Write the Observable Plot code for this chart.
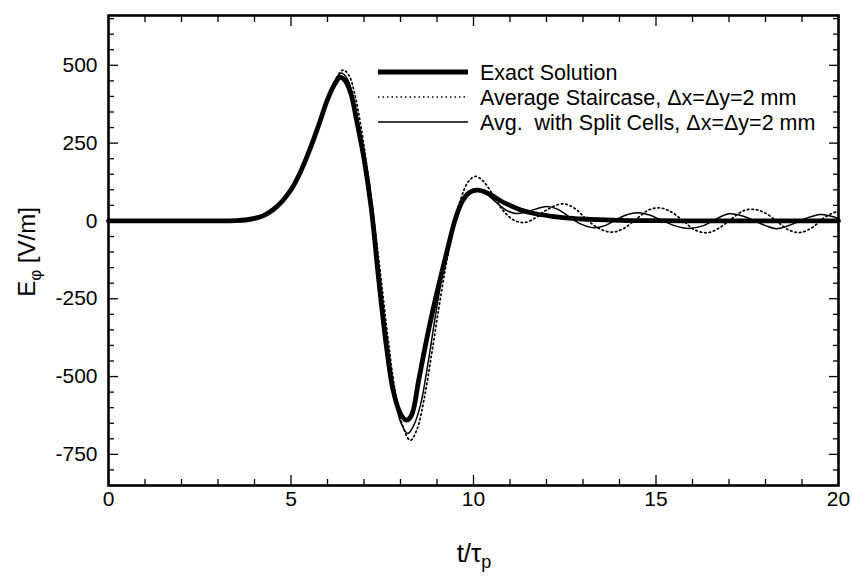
<!DOCTYPE html>
<html><head><meta charset="utf-8">
<script src="https://cdn.jsdelivr.net/npm/d3@7"></script>
<script src="https://cdn.jsdelivr.net/npm/@observablehq/plot@0.6"></script>
<style>
body{margin:0;background:#fff}
svg{font-family:"Liberation Sans",Arial,Helvetica,sans-serif}
</style>
</head><body><div id="chart"></div>
<script>
// Exact solution (thick)
const exactT = [0,1,2,3,3.5,3.75,4.0,4.25,4.5,4.75,5.0,5.25,5.5,5.75,6.0,6.2,6.35,6.5,6.65,6.8,7.0,7.2,7.4,7.6,7.8,8.0,8.16,8.3,8.5,8.7,8.9,9.1,9.3,9.5,9.7,9.9,10.1,10.3,10.5,10.75,11.0,11.3,11.7,12.2,12.7,13.2,14,15,16,17,18,19,20];
const exactV = [0,0,0,0,1,3,8,17,35,62,100,155,225,305,390,440,461,448,405,322,200,40,-185,-390,-545,-620,-640,-625,-511,-390,-280,-180,-85,5,65,92,99,94,82,64,50,35,23,14,8,5,2,1,0,0,0,0,0];

// Average staircase (dotted)
const stairT = [0,1,2,3,3.5,3.75,4.0,4.25,4.5,4.75,5.0,5.25,5.5,5.75,6.0,6.2,6.43,6.6,6.75,6.9,7.05,7.25,7.45,7.65,7.85,8.05,8.27,8.45,8.65,8.85,9.05,9.25,9.45,9.65,9.85,10.05,10.25,10.5,10.8,11.1,11.4,11.7,12.0,12.45,12.8,13.1,13.45,13.8,14.1,14.45,14.8,15.1,15.4,15.75,16.05,16.4,16.7,17.05,17.4,17.7,18.0,18.35,18.65,18.96,19.3,19.6,19.95,20];
const stairV = [0,0,0,0,1,3,7,16,33,60,98,152,222,305,390,450,485,465,405,315,200,25,-170,-370,-545,-655,-705,-670,-570,-430,-280,-140,-20,70,125,143,130,90,35,3,-5,10,35,55,38,5,-25,-36,-25,5,35,42,30,0,-28,-38,-25,5,33,37,25,-5,-30,-37,-20,10,30,31];

// Average with split cells (thin solid)
const splitT = [0,1,2,3,3.5,3.75,4.0,4.25,4.5,4.75,5.0,5.25,5.5,5.75,6.0,6.2,6.38,6.55,6.7,6.85,7.0,7.2,7.4,7.6,7.8,8.0,8.2,8.35,8.55,8.75,8.95,9.15,9.35,9.55,9.75,9.95,10.1,10.3,10.6,10.9,11.15,11.4,11.7,12.0,12.3,12.6,12.9,13.3,13.6,13.9,14.2,14.5,14.8,15.2,15.5,15.9,16.3,16.6,17.0,17.4,17.7,18.0,18.3,18.7,19.1,19.5,19.8,20];
const splitV = [0,0,0,0,1,3,8,17,35,62,100,155,225,310,395,450,475,455,400,310,200,30,-170,-370,-540,-645,-683,-660,-590,-460,-310,-170,-60,20,75,100,102,92,62,34,24,27,38,46,38,15,-8,-22,-15,3,20,26,20,0,-15,-24,-15,3,23,15,0,-15,-25,-12,8,21,15,8];

const xMajor = [0,5,10,15,20];
const xMinor = [1,2,3,4,6,7,8,9,11,12,13,14,16,17,18,19];
const yMajor = [-750,-500,-250,0,250,500];
const yMinor = [-800,-700,-650,-600,-550,-450,-400,-350,-300,-200,-150,-100,-50,50,100,150,200,300,350,400,450,550,600,650];

const legendLabels = ["Exact Solution","Average Staircase, \u0394x=\u0394y=2 mm","Avg.\u00a0 with Split Cells, \u0394x=\u0394y=2 mm"];

const toRows = (T, V) => T.map((t, i) => ({t, v: V[i]}));
const exactRows = toRows(exactT, exactV);
const stairRows = toRows(stairT, stairV);
const splitRows = toRows(splitT, splitV);

const fmt = d => String(d);
const tk = {stroke: "black", strokeWidth: 1.3, tickFormat: () => "", label: null};
const MAJ = 10, MIN = 6;

const chart = Plot.plot({
  width: 852, height: 576,
  marginLeft: 108, marginRight: 14, marginTop: 15, marginBottom: 91,
  x: {domain: [0, 20]},
  y: {domain: [-850, 660]},
  style: {fontFamily: '"Liberation Sans",Arial,Helvetica,sans-serif', fontSize: "21px", color: "black", background: "white"},
  marks: [
    Plot.line(stairRows, {x: "t", y: "v", stroke: "black", strokeWidth: 1.7, strokeDasharray: "1.5 3", curve: "catmull-rom"}),
    Plot.line(splitRows, {x: "t", y: "v", stroke: "black", strokeWidth: 1.5, curve: "catmull-rom"}),
    Plot.line(exactRows, {x: "t", y: "v", stroke: "black", strokeWidth: 4.8, curve: "catmull-rom"}),
    // inward ticks on all four sides (outward ticks shifted inside by their length)
    Plot.axisX(xMajor, {anchor: "bottom", tickSize: MAJ, dy: -MAJ, ...tk}),
    Plot.axisX(xMinor, {anchor: "bottom", tickSize: MIN, dy: -MIN, ...tk}),
    Plot.axisX(xMajor, {anchor: "top", tickSize: MAJ, dy: MAJ, ...tk}),
    Plot.axisX(xMinor, {anchor: "top", tickSize: MIN, dy: MIN, ...tk}),
    Plot.axisY(yMajor, {anchor: "left", tickSize: MAJ, dx: MAJ, ...tk}),
    Plot.axisY(yMinor, {anchor: "left", tickSize: MIN, dx: MIN, ...tk}),
    Plot.axisY(yMajor, {anchor: "right", tickSize: MAJ, dx: -MAJ, ...tk}),
    Plot.axisY(yMinor, {anchor: "right", tickSize: MIN, dx: -MIN, ...tk}),
    // tick labels
    Plot.axisX(xMajor, {anchor: "bottom", tickSize: 0, tickPadding: 6, tickFormat: fmt, fontSize: 21, label: null}),
    Plot.axisY(yMajor, {anchor: "left", tickSize: 0, tickPadding: 11, tickFormat: fmt, fontSize: 21, label: null}),
    Plot.frame({stroke: "black", strokeWidth: 2.6})
  ]
});

document.getElementById("chart").append(chart);

// Axis titles and legend (SVG text with subscripts)
const svg = d3.select(chart);
const xt = svg.append("text").attr("x", 474).attr("y", 562).attr("text-anchor", "middle")
  .attr("font-size", 26).attr("fill", "black");
xt.append("tspan").text("t/\u03c4");
xt.append("tspan").attr("font-size", 18).attr("dy", 6).text("p");

const yt = svg.append("text").attr("transform", "translate(35,252) rotate(-90)")
  .attr("text-anchor", "middle").attr("font-size", 24).attr("fill", "black");
yt.append("tspan").text("E");
yt.append("tspan").attr("font-size", 17).attr("dy", 6).text("\u03c6");
yt.append("tspan").attr("dy", -6).text(" [V/m]");

const lg = svg.append("g");
const legendStyles = [
  {w: 4.8, dash: null},
  {w: 1.7, dash: "1.5 3"},
  {w: 1.5, dash: null}
];
legendLabels.forEach((label, i) => {
  const y = 72 + i * 25;
  lg.append("line").attr("x1", 378).attr("x2", 468).attr("y1", y).attr("y2", y)
    .attr("stroke", "black").attr("stroke-width", legendStyles[i].w)
    .attr("stroke-dasharray", legendStyles[i].dash);
  lg.append("text").attr("x", 480).attr("y", y).attr("dy", "0.35em")
    .attr("text-anchor", "start")
    .attr("font-size", 21.5).attr("fill", "black").text(label);
});
</script>
</body></html>
